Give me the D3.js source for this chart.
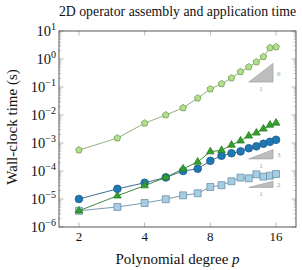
<!DOCTYPE html>
<html>
<head>
<meta charset="utf-8">
<script src="https://cdn.jsdelivr.net/npm/d3@7"></script>
<style>
  body { margin: 0; background: #fff; }
  text { font-family: "Liberation Serif", "DejaVu Serif", serif; fill: #111; }
</style>
</head>
<body>
<div id="chart"></div>
<script>
var degrees = [2, 3, 4, 5, 6, 7, 8, 9, 10, 11, 12, 13, 14, 15, 16];

// one series per marker style
var pentagonTimes = [5.6e-4, 1.5e-3, 5.1e-3, 1.0e-2, 1.8e-2, 4.0e-2, 8.5e-2, 0.13, 0.21, 0.35, 0.52, 0.78, 1.2, 2.5, 2.7];
var triangleTimes = [3.8e-6, 1.3e-5, 3.0e-5, 5.9e-5, 1.2e-4, 2.1e-4, 4.9e-4, 5.5e-4, 8.5e-4, 1.2e-3, 1.8e-3, 2.3e-3, 3.2e-3, 4.4e-3, 5.2e-3];
var circleTimes = [1.0e-5, 2.3e-5, 3.8e-5, 5.9e-5, 1.0e-4, 1.2e-4, 2.3e-4, 3.5e-4, 4.3e-4, 5.0e-4, 6.5e-4, 7.6e-4, 9.4e-4, 1.1e-3, 1.3e-3];
var squareTimes = [3.8e-6, 5.2e-6, 7.2e-6, 9.8e-6, 1.35e-5, 1.6e-5, 2.7e-5, 3.1e-5, 4.3e-5, 5.8e-5, 5.5e-5, 7.6e-5, 6.3e-5, 6.8e-5, 7.8e-5];

var xTicks = [2, 4, 8, 16];
var yTickExps = [-6, -5, -4, -3, -2, -1, 0, 1];

// slope triangles: [x0, x1, y at base, slope]
var slopes = [[12, 15.5, 0.15, 6], [12, 15.5, 2.7e-4, 3], [12, 15.5, 2.6e-5, 2]];

var margin = [31, 6, 43, 59],
    W = 302, H = 270,
    width = W - margin[3] - margin[1],
    height = H - margin[0] - margin[2];

var svg = d3.select("#chart").append("svg")
    .attr("width", W)
    .attr("height", H);

var g = svg.append("g")
    .attr("transform", "translate(" + margin[3] + "," + margin[0] + ")");

var x = d3.scaleLog().base(2).domain([2 / 1.234, 16 * 1.234]).range([0, width]);
var y = d3.scaleLog().domain([1e-6, 10]).range([height, 0]);

// minor ticks on left/right
var minors = [];
for (var e = -6; e < 1; e++) for (var m = 2; m < 10; m++) minors.push(m * Math.pow(10, e));

var tickCol = "#aaa";
[0, width].forEach(function(px, side) {
  var dir = side == 0 ? 1 : -1;
  g.selectAll(null).data(minors).enter().append("line")
    .attr("x1", px).attr("x2", px + dir * 2.5)
    .attr("y1", function(d) { return y(d); }).attr("y2", function(d) { return y(d); })
    .attr("stroke", tickCol).attr("stroke-width", 0.6);
  g.selectAll(null).data(yTickExps).enter().append("line")
    .attr("x1", px).attr("x2", px + dir * 4.5)
    .attr("y1", function(d) { return y(Math.pow(10, d)); }).attr("y2", function(d) { return y(Math.pow(10, d)); })
    .attr("stroke", tickCol).attr("stroke-width", 0.8);
});
[0, height].forEach(function(py, side) {
  var dir = side == 0 ? 1 : -1;
  g.selectAll(null).data(xTicks).enter().append("line")
    .attr("y1", py).attr("y2", py + dir * 4.5)
    .attr("x1", function(d) { return x(d); }).attr("x2", function(d) { return x(d); })
    .attr("stroke", tickCol).attr("stroke-width", 0.8);
});

// frame
g.append("rect").attr("width", width).attr("height", height)
  .attr("fill", "none").attr("stroke", "#444").attr("stroke-width", 0.9);

// y tick labels 10^n
var yl = g.selectAll(".ylab").data(yTickExps).enter().append("text")
  .attr("class", "ylab")
  .attr("x", -3)
  .attr("y", function(d) { return y(Math.pow(10, d)) + 5; })
  .attr("text-anchor", "end")
  .style("font-size", "14.5px");
yl.append("tspan").text("10");
yl.append("tspan").attr("dy", -6).style("font-size", "10px")
  .text(function(d) { return d < 0 ? "\u2212" + (-d) : d; });

// x tick labels
g.selectAll(".xlab").data(xTicks).enter().append("text")
  .attr("x", function(d) { return x(d); })
  .attr("y", height + 13.5)
  .attr("text-anchor", "middle")
  .style("font-size", "13px")
  .text(function(d) { return d; });

// slope triangles
slopes.forEach(function(s) {
  var y1 = s[2] * Math.pow(s[1] / s[0], s[3]);
  var pts = [[x(s[0]), y(s[2])], [x(s[1]), y(s[2])], [x(s[1]), y(y1)]];
  g.append("path").attr("d", d3.line()(pts) + "Z")
    .attr("fill", "#bdbdbd").attr("stroke", "#999").attr("stroke-width", 0.6);
  g.append("text").attr("x", x(s[1]) + 4).attr("y", (y(s[2]) + y(y1)) / 2 + 3)
    .style("font-size", "7px").style("fill", "#999").text(s[3]);
  g.append("text").attr("x", (x(s[0]) + x(s[1])) / 2).attr("y", y(s[2]) + 9)
    .attr("text-anchor", "middle").style("font-size", "7px").style("fill", "#999").text("1");
});

function pentagon(r) {
  var p = d3.range(5).map(function(i) {
    var a = -Math.PI / 2 + i * 2 * Math.PI / 5;
    return [r * Math.cos(a), r * Math.sin(a)];
  });
  return d3.line()(p) + "Z";
}

var series = [
  { vals: squareTimes, line: "#6b8fa8", fill: "#a6cee3", stroke: "#6b8fa8", mark: d3.symbol().type(d3.symbolSquare).size(48)() },
  { vals: circleTimes, line: "#2a5f87", fill: "#1f78b4", stroke: "#1a5a8a", mark: d3.symbol().type(d3.symbolCircle).size(46)() },
  { vals: triangleTimes, line: "#2f7a2a", fill: "#33a02c", stroke: "#27801f", mark: d3.symbol().type(d3.symbolTriangle).size(25)() },
  { vals: pentagonTimes, line: "#86a96a", fill: "#b2df8a", stroke: "#6f9a50", mark: pentagon(3.5) }
];

var line = d3.line()
  .x(function(d) { return x(d[0]); })
  .y(function(d) { return y(d[1]); });

series.forEach(function(s) {
  var pts = degrees.map(function(d, i) { return [d, s.vals[i]]; });
  g.append("path").attr("d", line(pts))
    .attr("fill", "none").attr("stroke", s.line).attr("stroke-width", 0.9);
  g.selectAll(null).data(pts).enter().append("path")
    .attr("d", s.mark)
    .attr("transform", function(d) { return "translate(" + x(d[0]) + "," + y(d[1]) + ")"; })
    .attr("fill", s.fill).attr("stroke", s.stroke).attr("stroke-width", 0.8);
});

// titles
svg.append("text").attr("x", margin[3] + width / 2).attr("y", 16)
  .attr("text-anchor", "middle").style("font-size", "13.8px")
  .text("2D operator assembly and application time");

var xt = svg.append("text").attr("x", margin[3] + width / 2).attr("y", 264)
  .attr("text-anchor", "middle").style("font-size", "15px");
xt.append("tspan").text("Polynomial degree ");
xt.append("tspan").style("font-style", "italic").text("p");

svg.append("text")
  .attr("transform", "translate(17," + 127 + ") rotate(-90)")
  .attr("text-anchor", "middle").style("font-size", "15px")
  .text("Wall-clock time (s)");
</script>
</body>
</html>
